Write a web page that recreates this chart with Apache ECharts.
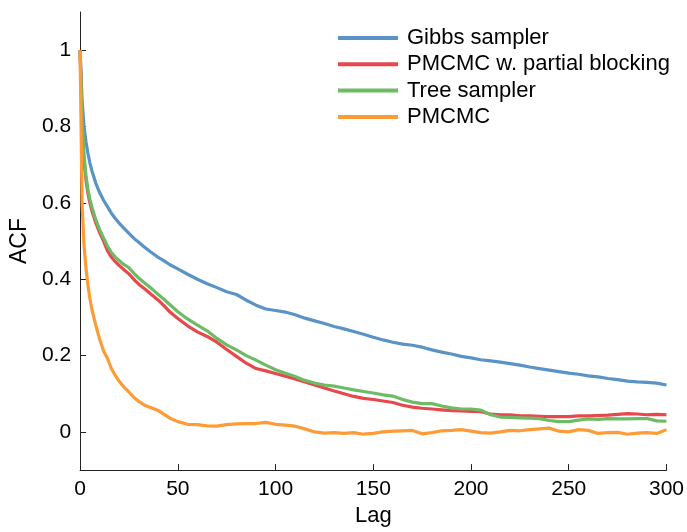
<!DOCTYPE html>
<html>
<head>
<meta charset="utf-8">
<style>html,body{margin:0;padding:0;background:#fff;}#chart{width:687px;height:532px;}</style>
<script src="https://cdn.jsdelivr.net/npm/echarts@6/dist/echarts.min.js"></script>
</head>
<body>
<div id="chart"></div>
<script>
const lags = [0,1,2,3,4,5,6,8,10,12,14,16,18,20,22,25,28,30,33,36,40,43,46,50,
  55,60,65,70,75,80,85,90,95,100,105,110,115,120,125,130,135,140,145,150,155,160,165,170,175,180,185,190,195,200,
  205,210,215,220,225,230,235,240,245,250,255,260,265,270,275,280,285,290,295,300];

const gibbs = [1.0,0.87,0.80,0.76,0.73,0.705,0.685,0.652,0.627,0.607,0.59,0.573,0.559,0.547,0.536,0.52,0.505,0.497,0.484,0.472,0.457,0.448,0.438,0.427,
  0.413,0.40,0.388,0.378,0.367,0.36,0.345,0.332,0.322,0.318,0.314,0.307,0.298,0.291,0.284,0.276,0.27,0.263,0.256,0.248,0.241,0.235,0.23,0.227,0.222,0.215,0.209,0.204,0.198,0.194,
  0.189,0.186,0.183,0.179,0.175,0.17,0.166,0.162,0.158,0.154,0.151,0.147,0.144,0.14,0.137,0.133,0.131,0.13,0.128,0.123];

const partial = [1.0,0.80,0.71,0.66,0.625,0.60,0.58,0.548,0.522,0.5,0.475,0.458,0.446,0.436,0.427,0.414,0.397,0.387,0.375,0.362,0.345,0.33,0.314,0.297,
  0.278,0.262,0.25,0.235,0.216,0.198,0.18,0.166,0.16,0.153,0.146,0.139,0.131,0.123,0.115,0.107,0.1,0.093,0.088,0.085,0.081,0.077,0.07,0.065,0.062,0.06,0.058,0.056,0.055,0.054,
  0.053,0.047,0.045,0.045,0.042,0.042,0.041,0.04,0.04,0.04,0.042,0.042,0.043,0.044,0.046,0.048,0.047,0.045,0.046,0.045];

const tree = [1.0,0.82,0.725,0.672,0.635,0.61,0.59,0.556,0.53,0.508,0.487,0.47,0.458,0.449,0.44,0.43,0.413,0.403,0.39,0.378,0.36,0.347,0.333,0.315,
  0.296,0.28,0.265,0.245,0.228,0.215,0.2,0.188,0.175,0.163,0.154,0.145,0.135,0.128,0.123,0.12,0.115,0.11,0.106,0.102,0.097,0.094,0.085,0.078,0.074,0.074,0.068,0.063,0.06,0.06,
  0.057,0.045,0.039,0.038,0.037,0.036,0.035,0.03,0.027,0.027,0.031,0.034,0.033,0.035,0.034,0.034,0.035,0.035,0.029,0.028];

const pmcmc = [1.0,0.6,0.49,0.43,0.385,0.35,0.322,0.28,0.243,0.212,0.193,0.166,0.148,0.133,0.12,0.104,0.088,0.08,0.07,0.064,0.056,0.046,0.036,0.027,
  0.02,0.019,0.016,0.015,0.019,0.021,0.022,0.022,0.025,0.02,0.018,0.015,0.008,0.0,-0.003,-0.002,-0.004,-0.002,-0.006,-0.004,0.0,0.002,0.003,0.004,-0.005,-0.002,0.003,0.004,0.006,0.002,
  -0.002,-0.003,0.0,0.004,0.003,0.006,0.008,0.01,0.002,0.0,0.006,0.004,-0.004,-0.002,-0.001,-0.006,-0.003,-0.002,-0.004,0.006];

const xTicks = [0,50,100,150,200,250,300];
const yTicks = [0,0.2,0.4,0.6,0.8,1];

const seriesNames = ['Gibbs sampler','PMCMC w. partial blocking','Tree sampler','PMCMC'];
const seriesValues = [gibbs, partial, tree, pmcmc];
const colors = ['#5a93c6','#e8474b','#6dbb64','#fd9b36'];

const font = 'Liberation Sans, Arial, Helvetica, sans-serif';
const chart = echarts.init(document.getElementById('chart'), null, {renderer:'canvas'});
chart.setOption({
  animation: false,
  backgroundColor: '#fff',
  color: colors,
  grid: {left: 80, right: 19, top: 12, bottom: 52, containLabel: false},
  legend: {
    orient: 'vertical', left: 338, top: 27, padding: 0,
    icon: 'rect', itemWidth: 60, itemHeight: 4, itemGap: 4.3,
    textStyle: {fontFamily: font, fontSize: 22, color: '#000', lineHeight: 21.5, padding: [0,0,0,4]},
    data: seriesNames
  },
  xAxis: {
    type: 'value', min: 0, max: 300, interval: 50,
    name: 'Lag', nameLocation: 'middle', nameGap: 30,
    nameTextStyle: {fontFamily: font, fontSize: 22, color: '#000'},
    axisLine: {show: true, onZero: false, lineStyle: {color: '#222', width: 1}},
    axisTick: {show: true, inside: true, length: 6, customValues: xTicks, lineStyle: {color: '#222'}},
    axisLabel: {fontFamily: font, fontSize: 21, color: '#000', margin: 9, customValues: xTicks},
    splitLine: {show: false}
  },
  yAxis: {
    type: 'value', min: -0.1, max: 1.1,
    name: 'ACF', nameLocation: 'middle', nameGap: 38, nameRotate: 90,
    nameTextStyle: {fontFamily: font, fontSize: 23, color: '#000'},
    axisLine: {show: true, onZero: false, lineStyle: {color: '#222', width: 1}},
    axisTick: {show: true, inside: true, length: 6, customValues: yTicks, lineStyle: {color: '#222'}},
    axisLabel: {fontFamily: font, fontSize: 21, color: '#000', margin: 9, customValues: yTicks,
      formatter: v => String(Math.round(v*10)/10)},
    splitLine: {show: false}
  },
  series: seriesNames.map((n, i) => ({
    name: n, type: 'line', showSymbol: false, symbol: 'none',
    lineStyle: {width: 3.2, color: colors[i]},
    itemStyle: {color: colors[i]},
    data: lags.map((l, j) => [l, seriesValues[i][j]])
  }))
});
</script>
</body>
</html>
